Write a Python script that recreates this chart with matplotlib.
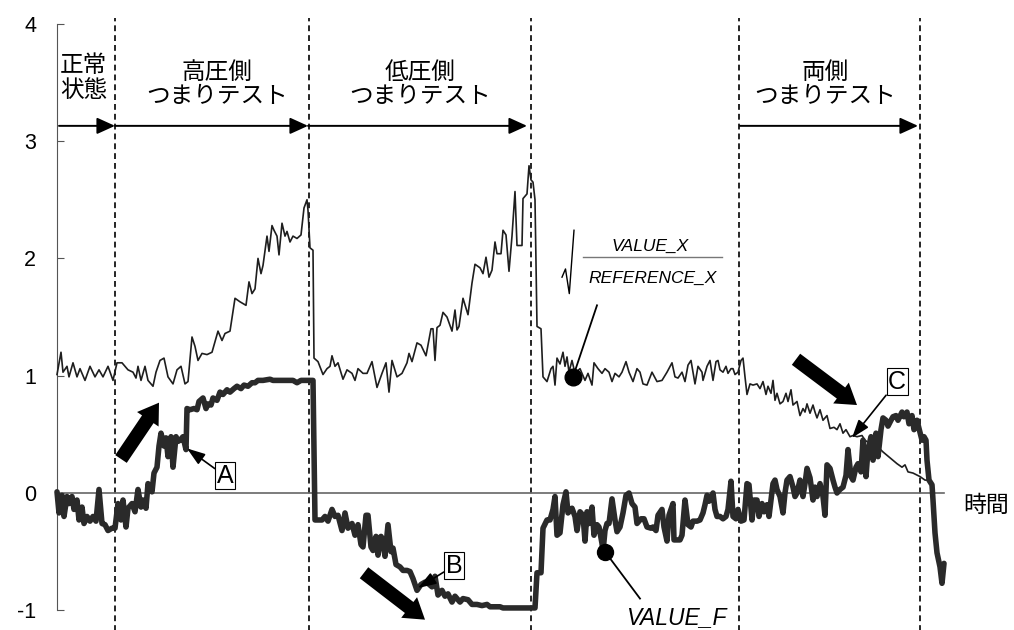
import matplotlib

matplotlib.use("Agg")
import matplotlib.pyplot as plt  # noqa: E402
from matplotlib.patches import FancyArrowPatch, ArrowStyle  # noqa: E402

plt.rcParams["font.family"] = ["Liberation Sans", "Noto Sans CJK JP"]

# time axis (arbitrary units) and sqrt(VALUE_X / REFERENCE_X)
x_t = [0, 4, 6, 10, 12, 16, 20, 23, 28, 33, 38, 42, 46, 51, 56, 60, 65, 71, 76, 79,
       81, 84, 88, 91, 96, 99, 103, 107, 111, 116, 120, 124, 128, 131, 135, 138, 141, 145, 150, 155,
       158, 161, 165, 168, 173, 178, 183, 189, 192, 195, 198, 201, 204, 206, 210, 212, 215, 217, 220, 222,
       225, 228, 230, 233, 236, 240, 244, 247, 250, 251, 253, 256, 257, 261, 266, 270, 273, 275, 278, 281,
       286, 290, 295, 298, 301, 306, 310, 315, 320, 325, 329, 332, 335, 340, 345, 350, 352, 355, 360, 364,
       369, 374, 376, 378, 380, 383, 386, 390, 395, 398, 400, 402, 406, 411, 415, 418, 423, 426, 429, 432,
       435, 438, 440, 444, 446, 449, 452, 455, 458, 460, 465, 466, 470, 472, 474, 476, 478, 480, 484, 486,
       490, 494, 496, 498, 500, 503, 506, 508, 510, 512, 515, 518, 523, 528, 531, 535, 537, 541, 545, 548,
       552, 555, 558, 562, 565, 569, 572, 576, 580, 583, 586, 590, 595, 600, 605, 610, 615, 618, 621, 625,
       628, 631, 634, 636, 638, 641, 645, 646, 650, 653, 656, 659, 661, 663, 666, 669, 671, 674, 676, 678,
       681, 684, 686, 688, 690, 693, 696, 700, 703, 706, 709, 711, 714, 716, 718, 720, 723, 726, 729, 731,
       734, 736, 740, 743, 746, 748, 750, 753, 756, 758, 760, 763, 766, 770, 773, 777, 780, 783, 786, 789,
       793, 796, 800, 805, 808, 813, 820, 826, 833, 840, 845, 848, 851, 856, 863, 868, 872]
x_v = [1.01, 1.20, 1.03, 1.08, 0.99, 1.11, 0.99, 1.06, 0.96, 1.08, 0.99, 1.05, 0.99, 1.08, 0.96, 1.11, 1.11, 1.05, 1.03, 0.98,
       1.08, 0.96, 1.08, 0.96, 0.91, 1.03, 1.13, 1.15, 0.99, 0.93, 1.05, 1.08, 0.93, 0.95, 1.33, 1.25, 1.13, 1.19, 1.18, 1.20,
       1.29, 1.38, 1.30, 1.36, 1.38, 1.66, 1.63, 1.60, 1.80, 1.70, 1.74, 2.00, 1.87, 1.94, 2.19, 2.06, 2.28, 2.24, 2.19, 2.03,
       2.30, 2.19, 2.23, 2.14, 2.19, 2.17, 2.20, 2.43, 2.50, 2.41, 2.09, 2.07, 1.15, 1.12, 1.01, 1.06, 1.08, 1.17, 1.08, 1.11,
       0.97, 1.05, 1.02, 0.96, 1.06, 1.02, 1.02, 1.12, 0.90, 1.02, 1.11, 0.86, 1.13, 0.99, 1.02, 1.11, 1.19, 1.12, 1.28, 1.26,
       1.17, 1.40, 1.40, 1.13, 1.41, 1.43, 1.54, 1.50, 1.38, 1.56, 1.39, 1.42, 1.66, 1.52, 1.79, 1.95, 1.92, 1.87, 2.01, 1.84,
       1.90, 2.14, 2.04, 2.04, 2.24, 2.20, 1.89, 2.19, 2.57, 2.11, 2.11, 2.51, 2.55, 2.79, 2.67, 2.65, 2.50, 1.42, 1.40, 0.99,
       0.95, 1.06, 1.08, 0.92, 1.15, 1.10, 1.20, 1.08, 1.16, 1.03, 1.13, 1.02, 1.06, 0.96, 1.02, 0.92, 1.11, 1.06, 1.02, 1.06,
       1.03, 0.95, 1.02, 0.99, 1.03, 1.12, 1.03, 0.95, 1.06, 1.03, 0.93, 0.92, 1.03, 0.95, 0.96, 1.03, 1.11, 0.99, 0.98, 1.03,
       0.95, 1.09, 1.13, 1.03, 0.93, 1.08, 1.03, 0.96, 1.08, 1.13, 0.96, 1.12, 1.13, 1.05, 1.03, 1.08, 1.02, 1.06, 1.06, 1.01,
       1.03, 1.13, 1.15, 0.99, 0.84, 0.93, 0.92, 0.93, 0.89, 0.95, 0.84, 0.91, 0.85, 0.96, 0.79, 0.85, 0.76, 0.78, 0.85, 0.78,
       0.88, 0.75, 0.78, 0.66, 0.72, 0.69, 0.76, 0.68, 0.75, 0.69, 0.64, 0.71, 0.62, 0.66, 0.55, 0.56, 0.54, 0.59, 0.51, 0.54,
       0.48, 0.49, 0.48, 0.49, 0.45, 0.42, 0.40, 0.35, 0.30, 0.25, 0.22, 0.24, 0.18, 0.17, 0.14, 0.11, 0.11]

# VALUE_F
f_t = [0, 2, 5, 7, 10, 12, 15, 17, 20, 22, 25, 27, 30, 33, 36, 39, 42, 45, 48, 51,
       55, 58, 61, 64, 66, 69, 71, 75, 78, 81, 84, 86, 89, 91, 95, 97, 100, 102, 104, 107,
       109, 111, 114, 116, 119, 121, 123, 126, 129, 130, 133, 137, 140, 142, 146, 149, 151, 154, 156, 160,
       163, 166, 170, 173, 177, 180, 184, 187, 191, 195, 198, 201, 206, 213, 216, 223, 230, 236, 240, 244,
       250, 256, 258, 260, 265, 268, 271, 275, 278, 281, 285, 288, 291, 295, 298, 301, 304, 306, 309, 311,
       314, 316, 319, 321, 324, 326, 328, 331, 334, 336, 339, 343, 346, 350, 353, 356, 360, 364, 368, 371,
       375, 378, 381, 385, 388, 391, 395, 398, 403, 406, 411, 415, 420, 425, 430, 433, 438, 443, 446, 453,
       463, 473, 478, 480, 484, 486, 490, 493, 496, 498, 500, 503, 506, 509, 511, 515, 518, 520, 523, 526,
       528, 530, 532, 535, 537, 540, 542, 545, 546, 548, 550, 552, 555, 558, 560, 563, 566, 569, 572, 575,
       578, 580, 584, 587, 590, 594, 596, 599, 601, 605, 607, 610, 612, 616, 617, 620, 623, 625, 628, 631,
       634, 636, 640, 643, 646, 648, 650, 652, 656, 658, 660, 663, 666, 669, 671, 674, 676, 679, 681, 684,
       687, 690, 692, 695, 697, 700, 702, 705, 707, 710, 712, 716, 718, 720, 723, 726, 728, 730, 733, 736,
       738, 740, 743, 746, 748, 750, 753, 756, 758, 760, 763, 766, 768, 770, 773, 776, 778, 780, 783, 786,
       789, 791, 794, 796, 799, 801, 804, 806, 809, 811, 814, 816, 819, 821, 824, 826, 829, 831, 834, 836,
       839, 841, 845, 847, 850, 852, 855, 857, 860, 862, 865, 867, 869, 870, 872, 875, 876, 878, 880, 883,
       885, 887]
f_v = [0.01, -0.17, -0.02, -0.20, -0.03, -0.09, -0.03, -0.14, -0.06, -0.23, -0.12, -0.26, -0.20, -0.24, -0.20, -0.24, 0.03, -0.26, -0.27, -0.32,
       -0.30, -0.30, -0.09, -0.23, -0.06, -0.29, -0.13, -0.09, -0.16, 0.03, -0.12, -0.06, -0.13, 0.08, 0.01, 0.17, 0.22, 0.40, 0.51, 0.40,
       0.47, 0.31, 0.48, 0.22, 0.48, 0.44, 0.45, 0.48, 0.37, 0.72, 0.71, 0.72, 0.71, 0.78, 0.81, 0.72, 0.76, 0.75, 0.81, 0.79,
       0.86, 0.84, 0.88, 0.86, 0.89, 0.91, 0.89, 0.92, 0.91, 0.94, 0.94, 0.96, 0.96, 0.97, 0.96, 0.96, 0.96, 0.96, 0.94, 0.96,
       0.96, 0.96, -0.23, -0.23, -0.23, -0.20, -0.24, -0.14, -0.20, -0.19, -0.32, -0.17, -0.30, -0.26, -0.36, -0.27, -0.44, -0.46, -0.19, -0.19,
       -0.46, -0.49, -0.37, -0.53, -0.37, -0.40, -0.54, -0.27, -0.50, -0.47, -0.61, -0.63, -0.66, -0.66, -0.67, -0.73, -0.83, -0.78, -0.76, -0.77,
       -0.80, -0.71, -0.87, -0.83, -0.88, -0.86, -0.93, -0.88, -0.93, -0.90, -0.91, -0.95, -0.95, -0.96, -0.95, -0.97, -0.97, -0.97, -0.98, -0.98,
       -0.98, -0.98, -0.98, -0.68, -0.68, -0.30, -0.23, -0.23, -0.14, -0.03, -0.36, -0.34, -0.10, 0.01, -0.17, -0.13, -0.20, -0.32, -0.16, -0.19,
       -0.41, -0.16, -0.26, -0.12, -0.36, -0.27, -0.29, -0.43, -0.50, -0.32, -0.26, -0.26, -0.05, -0.23, -0.33, -0.29, -0.17, -0.02, 0.00, -0.09,
       -0.12, -0.26, -0.22, -0.22, -0.29, -0.30, -0.29, -0.32, -0.19, -0.14, -0.29, -0.41, -0.19, -0.09, -0.40, -0.40, -0.40, -0.36, -0.06, -0.27,
       -0.29, -0.24, -0.24, -0.23, -0.17, -0.10, -0.02, -0.07, 0.00, -0.14, -0.20, -0.20, -0.22, -0.20, -0.14, 0.10, -0.20, -0.22, -0.14, -0.24,
       -0.23, 0.08, 0.07, -0.23, -0.06, -0.06, -0.20, -0.09, -0.16, -0.10, -0.20, 0.08, 0.11, 0.03, -0.03, -0.17, 0.00, 0.11, 0.14, 0.05,
       -0.03, 0.00, 0.11, -0.03, 0.08, 0.21, 0.13, -0.06, 0.05, -0.03, 0.08, -0.03, -0.19, 0.24, 0.21, 0.11, 0.05, 0.00, 0.03, 0.05,
       0.15, 0.37, 0.14, 0.11, 0.22, 0.25, 0.18, 0.45, 0.14, 0.37, 0.48, 0.28, 0.51, 0.31, 0.54, 0.64, 0.62, 0.57, 0.62, 0.65,
       0.66, 0.62, 0.69, 0.65, 0.69, 0.59, 0.66, 0.54, 0.62, 0.55, 0.45, 0.48, 0.45, 0.28, 0.11, 0.07, -0.06, -0.34, -0.51, -0.63,
       -0.77, -0.60]

phase_bounds = [58, 252, 474, 682, 863]
phase_labels = ["正常\n状態", "高圧側\nつまりテスト", "低圧側\nつまりテスト", "両側\nつまりテスト"]
y_ticks = [-1, 0, 1, 2, 3, 4]


def block_arrow(ax, start, end):
    style = ArrowStyle("Simple", head_length=1.44, head_width=1.87, tail_width=1.0)
    ax.add_patch(FancyArrowPatch(start, end, arrowstyle=style, mutation_scale=10,
                                 color="black", lw=0, shrinkA=0, shrinkB=0, zorder=6))


def boxed_label(ax, letter, text_xy, tip_xy):
    ax.annotate(letter, xy=tip_xy, xytext=text_xy, fontsize=18, ha="center", va="center",
                bbox=dict(boxstyle="square,pad=0.06", fc="white", ec="black", lw=0.8),
                arrowprops=dict(arrowstyle="-|>,head_length=1.1,head_width=0.38", mutation_scale=10,
                                color="black", lw=1.2, shrinkA=0, shrinkB=0),
                zorder=7)


fig = plt.figure(figsize=(10.14, 6.30), dpi=100)
ax = fig.add_axes([0, 0, 1, 1])
ax.set_xlim(-57, 957)
ax.set_ylim(-1.168, 4.203)

for s in ("top", "right"):
    ax.spines[s].set_visible(False)
ax.spines["left"].set_position(("data", 0))
ax.spines["left"].set_bounds(-1, 4)
ax.spines["left"].set_color("#555555")
ax.spines["bottom"].set_position(("data", 0))
ax.spines["bottom"].set_bounds(0, 887)
ax.spines["bottom"].set_color("#666666")
ax.spines["bottom"].set_linewidth(1.2)
ax.set_xticks([])
ax.set_yticks(y_ticks)
ax.set_yticklabels([str(v) for v in y_ticks])
ax.tick_params(axis="y", direction="in", length=5, color="#555555", labelsize=15.5, pad=15)

for b in phase_bounds:
    ax.plot([b, b], [-1.2, 4.05], color="black", lw=1.2, linestyle=(0, (3.5, 2.4)), zorder=2)

ax.plot(x_t, x_v, color="#1e1e1e", lw=1.2, zorder=3)
ax.plot(f_t, f_v, color="#2a2a2a", lw=4.0, solid_joinstyle="round", solid_capstyle="round", zorder=4)

# phase arrows along the top
arrow_y = 3.13
arrow_spans = [(2, 58), (58, 251), (251, 470), (683, 861)]
for a, b in arrow_spans:
    ax.annotate("", xy=(b, arrow_y), xytext=(a, arrow_y),
                arrowprops=dict(arrowstyle="-|>,head_length=1.1,head_width=0.5", mutation_scale=10,
                                color="black", lw=1.4, shrinkA=0, shrinkB=0))

ax.text(3, 3.53, phase_labels[0], fontsize=17, ha="left", va="center", linespacing=1.18)
for cx, lab in zip([160, 363, 768], phase_labels[1:]):
    ax.text(cx, 3.48, lab, fontsize=17, ha="center", va="center", linespacing=1.15,
            multialignment="center")

ax.text(906, -0.11, "時間", fontsize=16.5, ha="left", va="center")

# big trend arrows
block_arrow(ax, (64, 0.29), (102, 0.77))
block_arrow(ax, (307, -0.68), (368, -1.08))
block_arrow(ax, (739, 1.14), (800, 0.75))

boxed_label(ax, "A", (168, 0.145), (130, 0.38))
boxed_label(ax, "B", (397, -0.62), (361, -0.81))
boxed_label(ax, "C", (840, 0.95), (795, 0.47))

# sqrt(VALUE_X / REFERENCE_X) label
ax.plot([516, 540], [0.99, 1.60], color="black", lw=1.3, zorder=5)
ax.plot([516], [0.99], "o", color="black", ms=12, zorder=6)
ax.plot([505, 508.5, 512.3, 517], [1.84, 1.91, 1.70, 2.24], color="black", lw=1.0)
ax.plot([526, 665], [2.01, 2.01], color="#777777", lw=1.0)
ax.text(593, 2.10, "VALUE_X", fontsize=12.5, style="italic", ha="center", va="center")
ax.text(596, 1.83, "REFERENCE_X", fontsize=12.5, style="italic", ha="center", va="center")

# VALUE_F label
ax.plot([548, 583], [-0.50, -0.90], color="black", lw=1.3, zorder=5)
ax.plot([548], [-0.50], "o", color="black", ms=11.5, zorder=6)
ax.text(619, -1.06, "VALUE_F", fontsize=16.5, style="italic", ha="center", va="center")

fig.savefig("out.png", dpi=100)
